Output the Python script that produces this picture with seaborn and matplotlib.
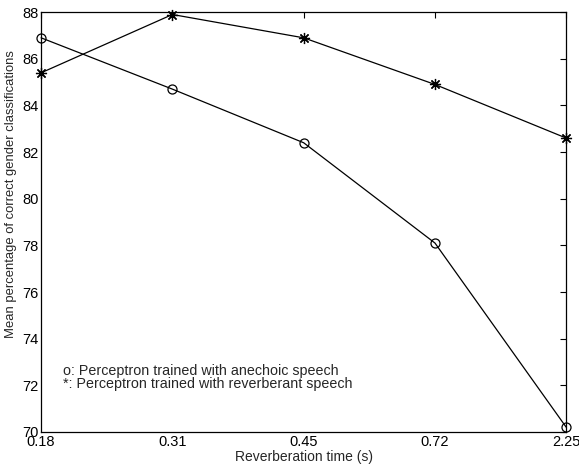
import matplotlib
matplotlib.use('Agg')
import matplotlib.pyplot as plt
import seaborn as sns
import pandas as pd

# Data
reverb_times = ['0.18', '0.31', '0.45', '0.72', '2.25']
anechoic_pct = [86.9, 84.7, 82.4, 78.1, 70.2]
reverberant_pct = [85.4, 87.9, 86.9, 84.9, 82.6]
y_ticks = [70, 72, 74, 76, 78, 80, 82, 84, 86, 88]
legend_lines = ['o: Perceptron trained with anechoic speech',
                '*: Perceptron trained with reverberant speech']

sns.set_style('white')
plt.rcParams['font.family'] = ['Liberation Sans', 'DejaVu Sans']

df = pd.DataFrame({
    'pos': list(range(len(reverb_times))),
    'anechoic': anechoic_pct,
    'reverberant': reverberant_pct,
})

fig = plt.figure(figsize=(5.79, 4.68), dpi=100)
ax = fig.add_axes([0.071, 0.077, 0.907, 0.897])

sns.lineplot(data=df, x='pos', y='anechoic', ax=ax, color='black', lw=0.9,
             marker='o', ms=6.5, mfc='none', mec='black', mew=0.9, clip_on=False)
sns.lineplot(data=df, x='pos', y='reverberant', ax=ax, color='black', lw=0.9,
             marker=(8, 2, 0), ms=8, mec='black', mew=0.9, clip_on=False)

ax.set_xlim(0, len(reverb_times) - 1)
ax.set_ylim(70, 88)
ax.set_xticks(df['pos'])
ax.set_xticklabels(reverb_times)
ax.set_yticks(y_ticks)
ax.tick_params(direction='in', length=4, width=0.8, labelsize=10.5,
               top=True, right=True, colors='black', pad=2)
for sp in ax.spines.values():
    sp.set_color('black')
    sp.set_linewidth(0.9)

ax.set_xlabel('Reverberation time (s)', fontsize=10, labelpad=1)
ax.set_ylabel('Mean percentage of correct gender classifications', fontsize=9.4)
ax.yaxis.set_label_coords(-0.046, 0.567)

ax.text(0.168, 72.6, legend_lines[0], fontsize=10.3, va='center', ha='left')
ax.text(0.168, 72.05, legend_lines[1], fontsize=10.3, va='center', ha='left')

fig.savefig('out.png', dpi=100)
plt.close(fig)
